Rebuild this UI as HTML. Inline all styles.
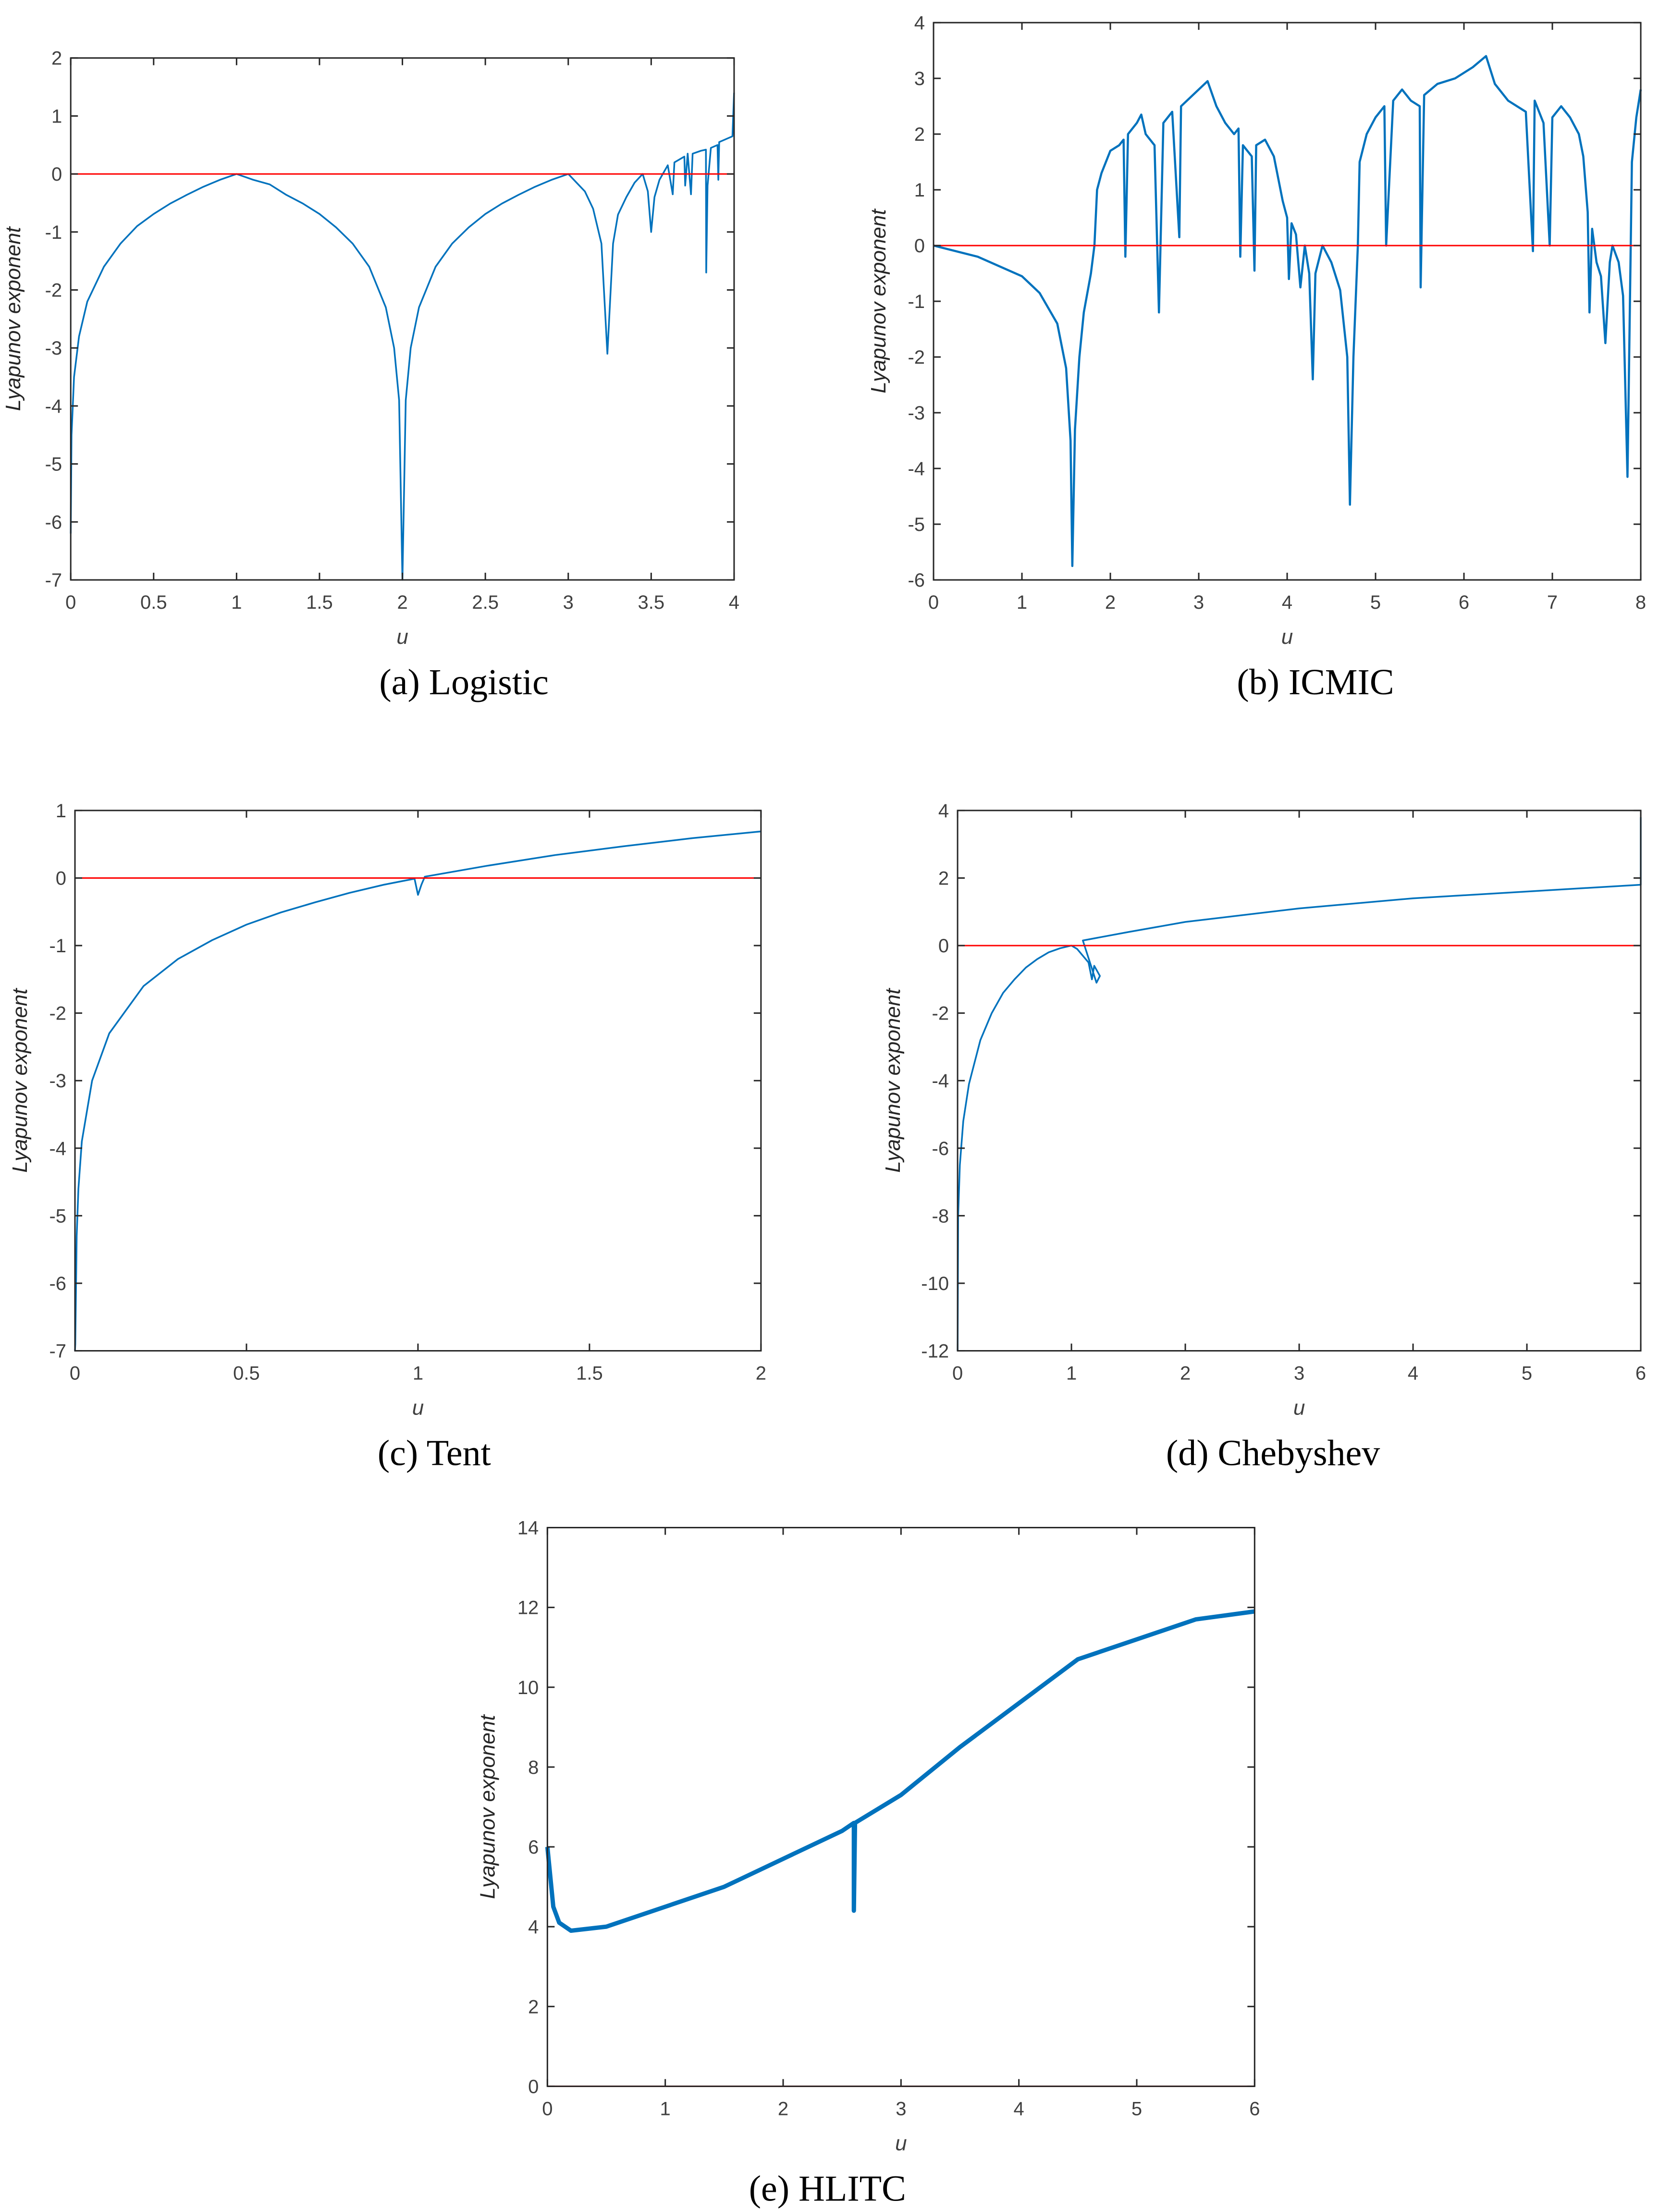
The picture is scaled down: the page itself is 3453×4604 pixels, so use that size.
<!DOCTYPE html>
<html><head><meta charset="utf-8"><title>Lyapunov exponents</title>
<style>
html,body{margin:0;padding:0;background:#fff;}
svg{display:block;}
</style></head>
<body>
<svg id="fig" xmlns="http://www.w3.org/2000/svg" width="3453" height="4604" viewBox="0 0 3453 4604"></svg>
<script>
// ---- Data ----
const logisticU = [0,0.005,0.02,0.05,0.1,0.2,0.3,0.4,0.5,0.6,0.7,0.8,0.9,1.0,1.1,1.2,1.3,1.4,1.5,1.6,1.7,1.8,1.9,1.95,1.98,2.0,2.02,2.05,2.1,2.2,2.3,2.4,2.5,2.6,2.7,2.8,2.9,3.0,3.1,3.15,3.2,3.236,3.27,3.3,3.35,3.4,3.449,3.48,3.5,3.52,3.55,3.57,3.6,3.63,3.64,3.7,3.705,3.72,3.74,3.75,3.8,3.83,3.832,3.84,3.86,3.9,3.905,3.91,3.95,3.99,4.0];
const logisticL = [-6.2,-4.5,-3.5,-2.8,-2.2,-1.6,-1.2,-0.9,-0.69,-0.51,-0.36,-0.22,-0.1,0,-0.1,-0.18,-0.36,-0.51,-0.69,-0.92,-1.2,-1.6,-2.3,-3.0,-3.9,-7.0,-3.9,-3.0,-2.3,-1.6,-1.2,-0.92,-0.69,-0.51,-0.36,-0.22,-0.1,0,-0.3,-0.6,-1.2,-3.1,-1.2,-0.7,-0.4,-0.15,0,-0.3,-1.0,-0.4,-0.1,0,0.15,-0.35,0.2,0.3,-0.2,0.35,-0.35,0.35,0.4,0.42,-1.7,-0.2,0.45,0.5,-0.1,0.55,0.6,0.65,1.4];
const icmicU = [0,0.5,1.0,1.2,1.4,1.5,1.55,1.57,1.6,1.65,1.7,1.78,1.82,1.85,1.9,2.0,2.1,2.15,2.17,2.2,2.3,2.35,2.4,2.5,2.55,2.6,2.7,2.78,2.8,3.0,3.1,3.2,3.3,3.4,3.45,3.47,3.5,3.6,3.63,3.65,3.75,3.85,3.95,4.0,4.02,4.05,4.1,4.15,4.2,4.25,4.29,4.32,4.4,4.5,4.6,4.68,4.71,4.75,4.8,4.82,4.9,5.0,5.1,5.12,5.2,5.3,5.4,5.5,5.51,5.55,5.7,5.9,6.1,6.25,6.35,6.5,6.7,6.78,6.8,6.9,6.97,7.0,7.1,7.2,7.3,7.35,7.4,7.42,7.45,7.5,7.55,7.6,7.65,7.68,7.75,7.8,7.85,7.9,7.95,8.0];
const icmicL = [0,-0.2,-0.55,-0.85,-1.4,-2.2,-3.5,-5.75,-3.3,-2.0,-1.2,-0.5,0,1.0,1.3,1.7,1.8,1.9,-0.2,2.0,2.2,2.35,2.0,1.8,-1.2,2.2,2.4,0.15,2.5,2.8,2.95,2.5,2.2,2.0,2.1,-0.2,1.8,1.6,-0.45,1.8,1.9,1.6,0.8,0.5,-0.6,0.4,0.2,-0.75,0,-0.5,-2.4,-0.5,0,-0.3,-0.8,-2.0,-4.65,-2.0,0,1.5,2.0,2.3,2.5,0,2.6,2.8,2.6,2.5,-0.75,2.7,2.9,3.0,3.2,3.4,2.9,2.6,2.4,-0.1,2.6,2.2,0,2.3,2.5,2.3,2.0,1.6,0.6,-1.2,0.3,-0.3,-0.55,-1.75,-0.3,0,-0.3,-0.9,-4.15,1.5,2.3,2.8];
const tentU = [0,0.001,0.005,0.01,0.02,0.05,0.1,0.2,0.3,0.4,0.5,0.6,0.7,0.8,0.9,0.99,1.0,1.01,1.02,1.2,1.4,1.6,1.8,2.0];
const tentL = [-7,-6.9,-5.3,-4.6,-3.9,-3.0,-2.3,-1.6,-1.2,-0.92,-0.69,-0.51,-0.36,-0.22,-0.1,-0.01,-0.25,-0.1,0.02,0.18,0.34,0.47,0.59,0.69];
const chebU = [0,0.005,0.02,0.05,0.1,0.2,0.3,0.4,0.5,0.6,0.7,0.8,0.9,1.0,1.05,1.1,1.15,1.18,1.2,1.25,1.22,1.1,1.5,2,3,4,5,6,6.0];
const chebL = [-12,-8,-6.5,-5.2,-4.1,-2.8,-2.0,-1.4,-1.0,-0.65,-0.4,-0.2,-0.08,0,-0.1,-0.3,-0.5,-1.0,-0.6,-0.9,-1.1,0.15,0.4,0.7,1.1,1.4,1.6,1.8,3.8];
const hlitcU = [0,0.05,0.1,0.2,0.5,1,1.5,2,2.5,2.6,2.6,2.61,3,3.5,4,4.5,5,5.5,6];
const hlitcL = [6,4.5,4.1,3.9,4.0,4.5,5.0,5.7,6.4,6.6,4.4,6.6,7.3,8.5,9.6,10.7,11.2,11.7,11.9];

const logisticXTicks = ["0","0.5","1","1.5","2","2.5","3","3.5","4"];
const logisticYTicks = ["-7","-6","-5","-4","-3","-2","-1","0","1","2"];
const icmicXTicks = ["0","1","2","3","4","5","6","7","8"];
const icmicYTicks = ["-6","-5","-4","-3","-2","-1","0","1","2","3","4"];
const tentXTicks = ["0","0.5","1","1.5","2"];
const tentYTicks = ["-7","-6","-5","-4","-3","-2","-1","0","1"];
const chebXTicks = ["0","1","2","3","4","5","6"];
const chebYTicks = ["-12","-10","-8","-6","-4","-2","0","2","4"];
const hlitcXTicks = ["0","1","2","3","4","5","6"];
const hlitcYTicks = ["0","2","4","6","8","10","12","14"];

const NS = "http://www.w3.org/2000/svg";
const svg = document.getElementById('fig');
function mk(tag, attrs, parent){
  const e = document.createElementNS(NS, tag);
  for (const k in attrs) e.setAttribute(k, attrs[k]);
  (parent||svg).appendChild(e);
  return e;
}

function chart(id, box, xTicks, yTicks, us, ls, caption, lw){
  const g = mk('g', {});
  
  
  const xmin = +xTicks[0], xmax = +xTicks[xTicks.length-1];
  const ymin = +yTicks[0], ymax = +yTicks[yTicks.length-1];
  const X = v => box.l + (v - xmin) / (xmax - xmin) * (box.r - box.l);
  const Y = v => box.b - (v - ymin) / (ymax - ymin) * (box.b - box.t);
  // series
  let d = '';
  for (let i = 0; i < us.length; i++) d += (i ? 'L' : 'M') + X(us[i]).toFixed(1) + ' ' + Y(ls[i]).toFixed(1);
  const line = mk('path', {d: d, fill: 'none', stroke: '#0072BD', 'stroke-width': lw, 'stroke-linejoin': 'round'}, g);
  
  
  // zero line
  const z = mk('line', {x1: box.l, x2: box.r, y1: Y(0), y2: Y(0), stroke: '#FF0000', 'stroke-width': 3}, g);
  
  
  // axes box
  const r = mk('rect', {x: box.l, y: box.t, width: box.r - box.l, height: box.b - box.t, fill: 'none', stroke: '#262626', 'stroke-width': 3}, g);
  
  
  const tl = 15;
  xTicks.forEach(t => {
    const x = X(+t);
    mk('line', {x1: x, x2: x, y1: box.b, y2: box.b - tl, stroke: '#262626', 'stroke-width': 3}, g);
    mk('line', {x1: x, x2: x, y1: box.t, y2: box.t + tl, stroke: '#262626', 'stroke-width': 3}, g);
    const tx = mk('text', {x: x, y: box.b + 60, 'text-anchor': 'middle', 'font-size': 40, fill: '#404040', 'font-family': 'Liberation Sans, sans-serif'}, g);
    tx.textContent = t;
    
    
  });
  yTicks.forEach(t => {
    const y = Y(+t);
    mk('line', {x1: box.l, x2: box.l + tl, y1: y, y2: y, stroke: '#262626', 'stroke-width': 3}, g);
    mk('line', {x1: box.r, x2: box.r - tl, y1: y, y2: y, stroke: '#262626', 'stroke-width': 3}, g);
    const ty = mk('text', {x: box.l - 18, y: y + 14, 'text-anchor': 'end', 'font-size': 40, fill: '#404040', 'font-family': 'Liberation Sans, sans-serif'}, g);
    ty.textContent = t;
    
    
  });
  const xl = mk('text', {x: (box.l + box.r) / 2, y: box.b + 133, 'text-anchor': 'middle', 'font-size': 44, 'font-style': 'italic', fill: '#404040', 'font-family': 'Liberation Sans, sans-serif'}, g);
  xl.textContent = 'u';
  
  
  const cy = (box.t + box.b) / 2, cx = box.l - box.ylab;
  const yl = mk('text', {x: cx, y: cy, 'text-anchor': 'middle', 'font-size': 44, 'font-style': 'italic', fill: '#262626', 'font-family': 'Liberation Sans, sans-serif', transform: 'rotate(-90 ' + cx + ' ' + cy + ')'}, g);
  yl.textContent = 'Lyapunov exponent';
  
  
  const cp = mk('text', {x: box.cx, y: box.b + 238, 'text-anchor': 'middle', 'font-size': 76, fill: '#000', 'font-family': 'Liberation Serif, serif'}, g);
  cp.textContent = caption;
  
  
}

const k = 2.944;
chart('logistic', {l: 50*k, r: 519*k, t: 41*k, b: 410*k, cx: 328*k, ylab: 105}, logisticXTicks, logisticYTicks, logisticU, logisticL, '(a) Logistic', 3.5);
chart('icmic', {l: 660*k, r: 1160*k, t: 16*k, b: 410*k, cx: 930*k, ylab: 100}, icmicXTicks, icmicYTicks, icmicU, icmicL, '(b) ICMIC', 4.5);
chart('tent', {l: 53*k, r: 538*k, t: 573*k, b: 955*k, cx: 307*k, ylab: 100}, tentXTicks, tentYTicks, tentU, tentL, '(c) Tent', 3.5);
chart('chebyshev', {l: 677*k, r: 1160*k, t: 573*k, b: 955*k, cx: 900*k, ylab: 120}, chebXTicks, chebYTicks, chebU, chebL, '(d) Chebyshev', 3.5);
chart('hlitc', {l: 387*k, r: 887*k, t: 1080*k, b: 1475*k, cx: 585*k, ylab: 110}, hlitcXTicks, hlitcYTicks, hlitcU, hlitcL, '(e) HLITC', 9);
</script>
</body></html>
